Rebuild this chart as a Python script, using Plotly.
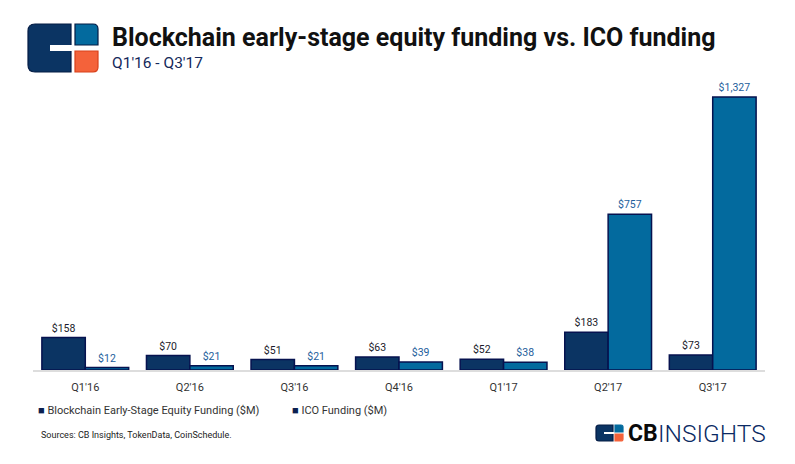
import plotly.graph_objects as go

# data
quarters = ["Q1'16", "Q2'16", "Q3'16", "Q4'16", "Q1'17", "Q2'17", "Q3'17"]
equity = [158, 70, 51, 63, 52, 183, 73]
ico = [12, 21, 21, 39, 38, 757, 1327]

NAVY = "#0b3463"
BLUE = "#036a9e"
EDGE = "#06124f"
ORANGE = "#f4623a"

W, H = 795, 464
OFF = 8                        # page body margin
L, R, T, B = 25, 38, 72, 102   # plot area on screen = x 33..765, y 80..370


def px(x):
    return (x - OFF - L) / (W - L - R)


def py(y):
    return (H - B - (y - OFF)) / (H - T - B)


def box(x0, y0, x1, y1, color, line=None):
    return dict(type="rect", xref="paper", yref="paper",
                x0=px(x0), x1=px(x1), y0=py(y1), y1=py(y0),
                fillcolor=color, line=dict(color=line or color, width=1 if line else 0),
                layer="above")


def rounded(x0, y0, x1, y1, r, color, line, corners="1111"):
    # corners: top-left, top-right, bottom-right, bottom-left
    tl, tr, br, bl = [r if c == "1" else 0 for c in corners]
    p = f"M{px(x0 + tl)},{py(y0)} L{px(x1 - tr)},{py(y0)} Q{px(x1)},{py(y0)} {px(x1)},{py(y0 + tr)} "
    p += f"L{px(x1)},{py(y1 - br)} Q{px(x1)},{py(y1)} {px(x1 - br)},{py(y1)} "
    p += f"L{px(x0 + bl)},{py(y1)} Q{px(x0)},{py(y1)} {px(x0)},{py(y1 - bl)} "
    p += f"L{px(x0)},{py(y0 + tl)} Q{px(x0)},{py(y0)} {px(x0 + tl)},{py(y0)} Z"
    return dict(type="path", xref="paper", yref="paper", path=p,
                fillcolor=color, line=dict(color=line, width=1.2), layer="above")


fig = go.Figure()

fig.add_trace(go.Bar(
    x=quarters, y=equity, name="Blockchain Early-Stage Equity Funding ($M)",
    marker=dict(color=NAVY, line=dict(color=EDGE, width=1.5)),
    texttemplate="$%{y:,}", textposition="outside",
    textfont=dict(size=10.5, color="#1b1b2b", family="Roboto"),
    cliponaxis=False,
))
fig.add_trace(go.Bar(
    x=quarters, y=ico, name="ICO Funding ($M)",
    marker=dict(color=BLUE, line=dict(color=EDGE, width=1.5)),
    texttemplate="$%{y:,}", textposition="outside",
    textfont=dict(size=10.5, color="#1d5e9c", family="Roboto"),
    cliponaxis=False,
))

shapes = [
    # header logo
    rounded(28, 24, 71, 72, 7, NAVY, "#041c45", "1001"),
    box(50, 45, 73, 51, "white"),
    rounded(75, 24, 98, 45, 5, BLUE, "#041c45", "0100"),
    rounded(75, 51, 98, 72, 5, ORANGE, "#d8401a", "0010"),
    # footer logo
    rounded(596, 425, 613, 441, 3, NAVY, "#041c45", "1001"),
    box(604, 432, 614, 434, "white"),
    rounded(615, 425, 623, 432, 2, BLUE, BLUE, "0100"),
    rounded(615, 434, 623, 441, 2, ORANGE, ORANGE, "0010"),
]

annotations = [
    dict(text="<b>Blockchain early-stage equity funding vs. ICO funding</b>",
         x=px(110), y=py(38), xanchor="left", yanchor="middle",
         font=dict(size=25, color="#111111", family="Roboto")),
    dict(text="Q1'16 - Q3'17", x=px(110), y=py(63), xanchor="left", yanchor="middle",
         font=dict(size=15.5, color="#14285a", family="Roboto")),
    dict(text="<span style='color:#0b2050'>■</span> Blockchain Early-Stage Equity Funding ($M)",
         x=px(36), y=py(410), xanchor="left", yanchor="middle",
         font=dict(size=11, color="#333333", family="Roboto")),
    dict(text="<span style='color:#0b2050'>■</span> ICO Funding ($M)",
         x=px(290), y=py(410), xanchor="left", yanchor="middle",
         font=dict(size=11, color="#333333", family="Roboto")),
    dict(text="Sources: CB Insights, TokenData, CoinSchedule.",
         x=px(39), y=py(435), xanchor="left", yanchor="middle",
         font=dict(size=9, color="#222222", family="Roboto")),
    dict(text="<b>CB</b>",
         x=px(626), y=py(433), xanchor="left", yanchor="middle",
         font=dict(size=23, color="#0a0a0a", family="Roboto")),
    dict(text="INSIGHTS",
         x=px(656), y=py(433), xanchor="left", yanchor="middle",
         font=dict(size=24.5, color="#0b2a63", family="Roboto", weight=300)),
]
for a in annotations:
    a.update(xref="paper", yref="paper", showarrow=False)

fig.update_layout(
    width=W, height=H,
    margin=dict(l=L, r=R, t=T, b=B),
    paper_bgcolor="white", plot_bgcolor="white",
    barmode="group", bargap=0.17, bargroupgap=0,
    showlegend=False,
    shapes=shapes, annotations=annotations,
    xaxis=dict(showline=True, linecolor="#dddddd", linewidth=2, ticks="",
               ticklabelstandoff=6,
               tickfont=dict(size=11, color="#333333", family="Roboto"),
               fixedrange=True),
    yaxis=dict(range=[0, 1410], visible=False, fixedrange=True),
)

fig.write_html("out.html", config={"displayModeBar": False})
